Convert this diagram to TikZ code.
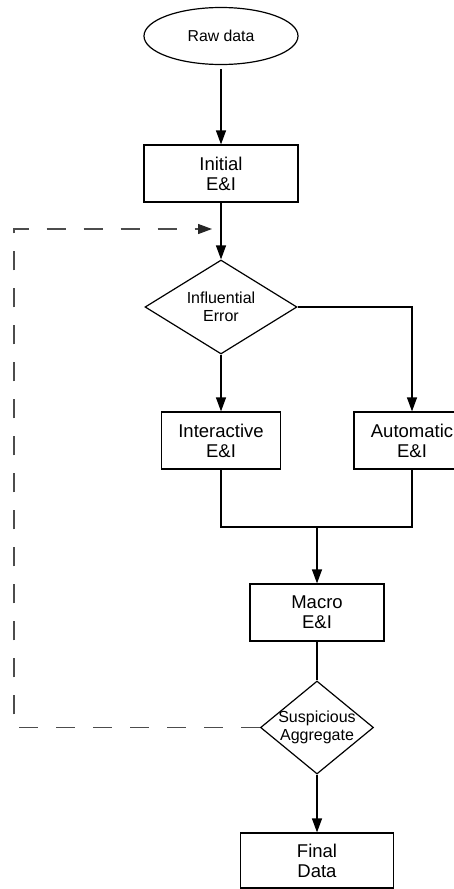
\documentclass[tikz,border=0pt]{standalone}
\usepackage{fontspec}
\setmainfont{Liberation Sans}
\usetikzlibrary{shapes.geometric,arrows.meta}
\tikzset{
  boxnode/.style={draw, line width=1.2pt, rectangle, inner sep=0pt, align=center,
    font=\fontsize{18.5}{20}\selectfont},
  ellnode/.style={draw, line width=1.2pt, ellipse, inner sep=0pt, minimum width=154pt, minimum height=57pt,
    font=\fontsize{15.8}{18}\selectfont},
  dianode/.style={draw, line width=1.2pt, diamond, inner sep=0pt},
  dialabel/.style={align=center, font=\fontsize{16}{18}\selectfont, inner sep=0pt},
  flow/.style={line width=1.2pt, -{Triangle[length=14pt,width=10pt]}},
  plain/.style={line width=1.2pt},
  loopback/.style={line width=1.3pt, draw=black!70, dash pattern=on 19pt off 18pt,
    -{Triangle[length=14pt,width=10pt,color=black!85]}}
}
\begin{document}
\begin{tikzpicture}[x=1pt,y=-1pt]
\useasboundingbox (0,0) rectangle (454,889);
\clip (0,0) rectangle (454,889);
\fill[white] (0,0) rectangle (454,889);

\node[ellnode] (raw) at (221,36) {Raw data};
\node[boxnode, minimum width=154pt, minimum height=57pt] (init) at (221,173.5) {Initial\\E\&I};
\node[dianode, minimum width=152pt, minimum height=94pt] (ie) at (221,307) {};
\node[dialabel] (ietext) at (221,307) {Influential\\Error};
\node[boxnode, minimum width=119pt, minimum height=57pt] (inter) at (221,440.5) {Interactive\\E\&I};
\node[boxnode, minimum width=116pt, minimum height=57pt] (auto) at (412,440.5) {Automatic\\E\&I};
\node[boxnode, minimum width=134pt, minimum height=57pt] (macro) at (317,612.5) {Macro\\E\&I};
\node[dianode, minimum width=113pt, minimum height=93pt] (sa) at (317,727.5) {};
\node[dialabel] (satext) at (317,727.5) {Suspicious\\Aggregate};
\node[boxnode, minimum width=153pt, minimum height=55pt] (final) at (317,860.5) {Final\\Data};

\coordinate (m) at (317,527);
\coordinate (lb) at (14,727.5);
\coordinate (lt) at (14,229);
\coordinate (le) at (212,229);

\draw[flow, shorten <=4pt] (raw) -- (init);
\draw[flow] (init) -- (ie);
\draw[flow] (ie) -- (inter);
\draw[flow] (ie.east) -| (auto.north);
\draw[plain] (inter.south) -- (inter.south |- m) -- (auto.south |- m) -- (auto.south);
\draw[flow] (m) -- (macro.north);
\draw[plain] (macro) -- (sa);
\draw[flow] (sa) -- (final);
\draw[loopback] (sa.west) -- (lb) -- (lt) -- (le);
\end{tikzpicture}
\end{document}
